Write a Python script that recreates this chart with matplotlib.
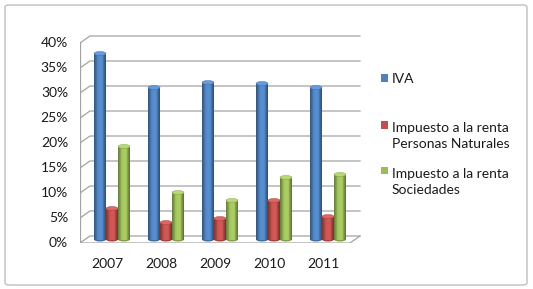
import numpy as np
import matplotlib.pyplot as plt
from matplotlib.patches import Rectangle, Ellipse, FancyBboxPatch
from matplotlib.colors import to_rgb

plt.rcParams['font.family'] = ['Lato', 'DejaVu Sans']

# datos
anios = ['2007', '2008', '2009', '2010', '2011']
iva = [37.2, 30.4, 31.4, 31.2, 30.4]
renta_personas = [6.2, 3.4, 4.2, 7.8, 4.6]
renta_sociedades = [18.6, 9.4, 7.8, 12.4, 13.0]
series = ['IVA', 'Impuesto a la renta\nPersonas Naturales', 'Impuesto a la renta\nSociedades']
colores = ['#4F81BD', '#C0504D', '#9BBB59']
yticks = [0, 5, 10, 15, 20, 25, 30, 35, 40]

W, H = 533, 289
fig = plt.figure(figsize=(W / 100, H / 100), dpi=100)

# marco del grafico
fig.patches.append(FancyBboxPatch((5 / W, 4 / H), 522 / W, 280 / H,
                                  boxstyle='round,pad=0,rounding_size=0.008',
                                  transform=fig.transFigure, facecolor='none',
                                  edgecolor='#BFBFBF', linewidth=1.0, zorder=-1))

ax = fig.add_axes([80 / W, 1 - 243 / H, 290 / W, 213 / H])
ax.set_xlim(0, 290 / 54)
ax.set_ylim(0, 213 / 5)
ax.axis('off')

dx, dy = 0.185, 1.4   # profundidad 3D
n = len(anios)
gris = '#A3A3A3'

# pared del fondo y lineas de grilla
for t in yticks:
    ax.plot([0, dx, n + dx], [t, t + dy, t + dy], color=gris, lw=0.9, zorder=1)
    ax.plot([-0.07, 0], [t, t], color=gris, lw=0.9, zorder=1)
ax.plot([0, 0], [0, 40], color=gris, lw=0.9, zorder=1)
# piso
ax.plot([0, n, n + dx], [0, 0, dy], color=gris, lw=0.9, zorder=5)
for i in range(n + 1):
    ax.plot([i, i], [0, -1.0], color=gris, lw=0.9, zorder=5)

for t in yticks:
    ax.text(-0.22, t, f'{t}%', ha='right', va='center', fontsize=10, color='#1A1A1A')
for i, a in enumerate(anios):
    ax.text(i + 0.5, -4.3, a, ha='center', va='center', fontsize=10, color='#1A1A1A')


def cilindro(x0, w, y0, h, color):
    base = np.array(to_rgb(color))
    k = 14
    for j in range(k):
        u = (j + 0.5) / k
        f = 0.55 + 0.55 * np.sin(np.pi * (u * 0.85 + 0.05))
        if u > 0.7:
            f -= 0.15 * (u - 0.7) / 0.3
        c = np.clip(base * f, 0, 1)
        ax.add_patch(Rectangle((x0 + j * w / k, y0), w / k * 1.05, h,
                               facecolor=c, edgecolor='none', zorder=3))
    ax.add_patch(Ellipse((x0 + w / 2, y0), w, 0.8, facecolor=base * 0.85,
                         edgecolor='none', zorder=2.9))
    top = np.clip(base * 1.1 + 0.05, 0, 1)
    ax.add_patch(Ellipse((x0 + w / 2, y0 + h), w, 0.8, facecolor=top,
                         edgecolor=base * 0.8, linewidth=0.3, zorder=3.1))


w = 0.222
for s, vals in enumerate([iva, renta_personas, renta_sociedades]):
    for i, v in enumerate(vals):
        x0 = i + (1 - 3 * w) / 2 + dx / 2 + s * w
        cilindro(x0, w, dy / 2, v, colores[s])

# leyenda (la linea base es la de la ultima linea de texto)
cuadro_y = [78, 125, 170]
base_y = [83, 148, 194]
for s in range(3):
    fig.patches.append(Rectangle((381 / W, 1 - (cuadro_y[s] + 3.5) / H), 7 / W, 7 / H,
                                 transform=fig.transFigure, facecolor=colores[s],
                                 edgecolor='none'))
    fig.text(392 / W, 1 - base_y[s] / H, series[s], ha='left', va='baseline',
             fontsize=10, color='#1A1A1A', linespacing=1.42)

fig.savefig('out.png', dpi=100)
